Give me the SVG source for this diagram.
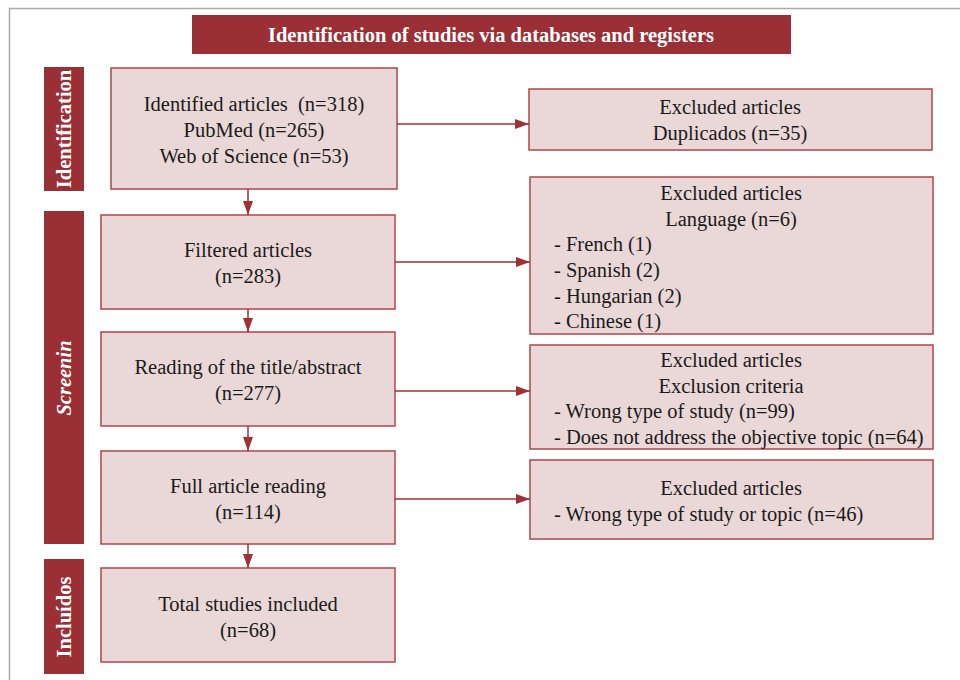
<svg xmlns="http://www.w3.org/2000/svg" width="960" height="680" viewBox="0 0 960 680">
<defs>
<marker id="ah" viewBox="0 0 14 10" refX="14" refY="5" markerWidth="14" markerHeight="10" markerUnits="userSpaceOnUse" orient="auto">
<path d="M0,0 L14,5 L0,10 z" fill="#9E3036"/>
</marker>
<style>
.box{fill:#EAD7D7;stroke:#B0464C;stroke-width:1.5}
.bar{fill:#9A2F35}
.t{font-family:"Liberation Serif","Times New Roman",serif;font-size:20.5px;fill:#1a1a1a}
.c{text-anchor:middle}
.w{font-family:"Liberation Serif","Times New Roman",serif;font-weight:bold;fill:#ffffff;text-anchor:middle}
.ln{stroke:#9E3036;stroke-width:1.5;fill:none}
</style>
</defs>
<rect x="0" y="0" width="960" height="680" fill="#ffffff"/>
<rect x="9.5" y="8.5" width="960" height="690" fill="none" stroke="#aaaaaa" stroke-width="1.5"/>

<g id="title">
<rect class="bar" x="192" y="15" width="599" height="39"/>
<text class="w" x="491" y="42" font-size="20.5">Identification of studies via databases and registers</text>
</g>

<g id="phase-identification">
<rect class="bar" x="44" y="67" width="40" height="124"/>
<text class="w" font-size="20.5" transform="translate(71,129) rotate(-90)">Identification</text>
</g>
<g id="phase-screening">
<rect class="bar" x="44" y="211" width="40" height="333"/>
<text class="w" font-size="20.5" font-style="italic" transform="translate(71,378) rotate(-90)">Screenin</text>
</g>
<g id="phase-included">
<rect class="bar" x="44" y="559" width="40" height="115"/>
<text class="w" font-size="20.5" transform="translate(71,617) rotate(-90)">Incluídos</text>
</g>

<g id="identified">
<rect class="box" x="111" y="68" width="286" height="121"/>
<text class="t c" x="254" y="111" xml:space="preserve">Identified articles  (n=318)</text>
<text class="t c" x="254" y="137">PubMed (n=265)</text>
<text class="t c" x="254" y="163">Web of Science (n=53)</text>
</g>
<g id="filtered">
<rect class="box" x="101" y="215" width="294" height="94"/>
<text class="t c" x="248" y="257">Filtered articles</text>
<text class="t c" x="248" y="283">(n=283)</text>
</g>
<g id="title-abstract">
<rect class="box" x="101" y="332" width="294" height="94"/>
<text class="t c" x="248" y="374">Reading of the title/abstract</text>
<text class="t c" x="248" y="400">(n=277)</text>
</g>
<g id="full-reading">
<rect class="box" x="101" y="451" width="294" height="93"/>
<text class="t c" x="248" y="493">Full article reading</text>
<text class="t c" x="248" y="519">(n=114)</text>
</g>
<g id="included">
<rect class="box" x="101" y="568" width="294" height="94"/>
<text class="t c" x="248" y="611">Total studies included</text>
<text class="t c" x="248" y="637">(n=68)</text>
</g>

<g id="excl-duplicates">
<rect class="box" x="529" y="89" width="403" height="61"/>
<text class="t c" x="730" y="114">Excluded articles</text>
<text class="t c" x="730" y="140">Duplicados (n=35)</text>
</g>
<g id="excl-language">
<rect class="box" x="530" y="177" width="403" height="157"/>
<text class="t c" x="731" y="200">Excluded articles</text>
<text class="t c" x="731" y="226">Language (n=6)</text>
<text class="t" x="554" y="251">- French (1)</text>
<text class="t" x="554" y="277">- Spanish (2)</text>
<text class="t" x="554" y="303">- Hungarian (2)</text>
<text class="t" x="554" y="328">- Chinese (1)</text>
</g>
<g id="excl-criteria">
<rect class="box" x="530" y="345" width="403" height="104"/>
<text class="t c" x="731" y="367">Excluded articles</text>
<text class="t c" x="731" y="393">Exclusion criteria</text>
<text class="t" x="554" y="418">- Wrong type of study (n=99)</text>
<text class="t" x="554" y="444">- Does not address the objective topic (n=64)</text>
</g>
<g id="excl-full">
<rect class="box" x="530" y="460" width="403" height="79"/>
<text class="t c" x="731" y="495">Excluded articles</text>
<text class="t" x="554" y="521">- Wrong type of study or topic (n=46)</text>
</g>

<g id="connectors">
<line class="ln" x1="397" y1="124" x2="529" y2="124" marker-end="url(#ah)"/>
<line class="ln" x1="395" y1="262" x2="530" y2="262" marker-end="url(#ah)"/>
<line class="ln" x1="395" y1="391" x2="530" y2="391" marker-end="url(#ah)"/>
<line class="ln" x1="395" y1="499" x2="530" y2="499" marker-end="url(#ah)"/>
<line class="ln" x1="248" y1="189" x2="248" y2="215" marker-end="url(#ah)"/>
<line class="ln" x1="248" y1="309" x2="248" y2="332" marker-end="url(#ah)"/>
<line class="ln" x1="248" y1="426" x2="248" y2="451" marker-end="url(#ah)"/>
<line class="ln" x1="248" y1="544" x2="248" y2="568" marker-end="url(#ah)"/>
</g>
</svg>
